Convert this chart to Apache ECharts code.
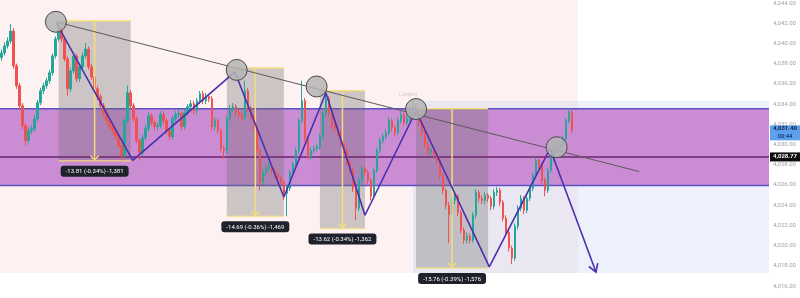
<!DOCTYPE html>
<html><head><meta charset="utf-8">
<script src="https://cdn.jsdelivr.net/npm/echarts@6/dist/echarts.min.js"></script>
<style>html,body{margin:0;padding:0;background:#fff}#c{width:800px;height:298px}</style>
</head><body><div id="c"></div>
<script>
// ---- data (bar index, price) ----
const barCount = 256;
const bars = Array.from({length: barCount}, (_, i) => String(i));
const yMin = 4016, yMax = 4044, yStep = 2;
// [open, close, low, high]
const ohlc = [
[4038.60,4039.06,4038.3,4039.4],[4039.06,4039.75,4038.8,4040.1],[4039.75,4040.24,4039.5,4040.6],[4040.24,4041.22,4040.0,4041.91],
[4041.22,4037.78,4037.5,4041.5],[4037.78,4035.81,4035.5,4038.0],[4035.81,4033.83,4033.5,4036.1],[4033.83,4031.86,4031.5,4034.1],
[4031.86,4030.39,4029.9,4032.1],[4030.39,4031.37,4030.1,4031.7],[4031.37,4031.57,4031.0,4031.9],[4031.57,4032.55,4031.3,4032.9],
[4032.55,4034.13,4032.3,4034.4],[4034.13,4035.31,4033.9,4035.6],[4035.31,4035.81,4035.0,4036.1],[4035.81,4036.30,4035.5,4036.6],
[4036.30,4037.09,4036.0,4037.4],[4037.09,4038.76,4036.8,4039.0],[4038.76,4040.44,4038.5,4040.7],[4040.44,4041.42,4040.2,4041.82],
[4041.42,4040.44,4040.1,4041.7],[4040.44,4038.47,4038.2,4040.7],[4038.47,4035.51,4034.82,4038.7],[4035.51,4037.28,4035.2,4037.6],
[4037.28,4038.76,4037.0,4039.1],[4038.76,4036.50,4036.2,4039.0],[4036.50,4037.68,4036.2,4038.0],[4037.68,4038.76,4037.4,4039.1],
[4038.76,4039.45,4038.5,4040.04],[4039.45,4037.68,4037.4,4039.7],[4037.68,4036.69,4036.4,4038.0],[4036.69,4035.51,4035.2,4037.0],
[4035.51,4034.72,4034.4,4035.8],[4034.72,4033.83,4033.5,4035.0],[4033.83,4033.15,4032.8,4034.1],[4033.15,4032.36,4032.0,4033.4],
[4032.36,4031.77,4031.4,4032.6],[4031.77,4031.37,4031.0,4032.1],[4031.37,4030.88,4030.5,4031.7],[4030.88,4029.89,4029.6,4031.1],
[4029.89,4028.91,4028.42,4030.2],[4028.91,4032.36,4028.7,4032.6],[4032.36,4035.12,4032.1,4035.81],[4035.12,4033.83,4033.5,4035.4],
[4033.83,4032.55,4032.2,4034.1],[4032.55,4030.39,4030.1,4032.8],[4030.39,4029.20,4028.42,4030.6],[4029.20,4030.68,4028.9,4031.0],
[4030.68,4031.57,4030.4,4031.9],[4031.57,4032.85,4031.3,4033.2],[4032.85,4032.16,4031.9,4033.1],[4032.16,4031.77,4031.4,4032.5],
[4031.77,4031.86,4031.4,4032.2],[4031.86,4032.95,4031.6,4033.3],[4032.95,4032.36,4032.0,4033.3],[4032.36,4031.37,4031.0,4032.6],
[4031.37,4030.78,4030.4,4031.6],[4030.78,4032.55,4030.5,4032.9],[4032.55,4032.95,4032.2,4033.3],[4032.95,4033.05,4032.6,4033.5],
[4033.05,4031.77,4031.4,4033.3],[4031.77,4033.15,4031.5,4033.5],[4033.15,4033.74,4032.8,4034.0],[4033.74,4034.03,4033.4,4034.4],
[4034.03,4033.34,4033.0,4034.3],[4033.34,4034.33,4033.0,4034.6],[4034.33,4035.02,4034.0,4035.3],[4035.02,4034.33,4034.0,4035.3],
[4034.33,4034.72,4034.0,4035.1],[4034.72,4034.53,4034.2,4035.0],[4034.53,4031.77,4031.4,4034.8],[4031.77,4032.36,4031.4,4032.7],
[4032.36,4031.37,4031.0,4032.6],[4031.37,4029.60,4029.3,4031.6],[4029.60,4029.40,4028.61,4029.9],[4029.40,4032.55,4029.1,4032.8],
[4032.55,4033.54,4032.3,4033.9],[4033.54,4033.74,4033.2,4034.1],[4033.74,4033.15,4032.8,4034.0],[4033.15,4032.95,4032.6,4033.4],
[4032.95,4032.65,4032.3,4033.2],[4032.65,4035.31,4032.4,4036.30],[4035.31,4033.54,4033.2,4035.6],[4033.54,4032.75,4032.4,4033.8],
[4032.75,4031.77,4031.4,4033.0],[4031.77,4029.40,4029.1,4032.0],[4029.40,4026.25,4025.46,4029.6],[4026.25,4027.23,4026.0,4027.6],
[4027.23,4027.63,4026.9,4028.0],[4027.63,4027.82,4027.3,4028.2],[4027.82,4027.43,4027.1,4028.1],[4027.43,4027.04,4026.7,4027.7],
[4027.04,4026.64,4026.3,4027.3],[4026.64,4026.25,4025.9,4026.9],[4026.25,4025.17,4024.48,4026.5],[4025.17,4025.66,4022.9,4026.0],
[4025.66,4027.23,4025.4,4027.5],[4027.23,4028.02,4027.0,4028.3],[4028.02,4029.40,4027.8,4029.7],[4029.40,4032.36,4029.1,4032.6],
[4032.36,4034.33,4032.1,4036.30],[4034.33,4030.58,4030.3,4034.6],[4030.58,4028.81,4028.5,4030.8],[4028.81,4029.40,4028.5,4029.7],
[4029.40,4029.60,4029.1,4029.9],[4029.60,4029.80,4029.3,4030.1],[4029.80,4030.78,4029.5,4031.1],[4030.78,4033.05,4030.5,4033.3],
[4033.05,4034.53,4032.8,4035.12],[4034.53,4033.15,4032.8,4034.8],[4033.15,4031.86,4031.5,4033.4],[4031.86,4031.57,4031.2,4032.2],
[4031.57,4031.17,4030.8,4031.9],[4031.17,4030.09,4029.8,4031.4],[4030.09,4029.40,4029.1,4030.4],[4029.40,4028.22,4027.9,4029.7],
[4028.22,4027.43,4027.1,4028.5],[4027.43,4025.66,4025.3,4027.7],[4025.66,4023.69,4022.51,4025.9],[4023.69,4026.45,4023.4,4026.7],
[4026.45,4027.63,4026.2,4027.9],[4027.63,4027.23,4026.9,4027.9],[4027.23,4026.45,4026.1,4027.5],[4026.45,4024.87,4024.48,4026.7],
[4024.87,4027.43,4024.6,4027.7],[4027.43,4029.40,4027.2,4029.7],[4029.40,4030.39,4029.1,4030.7],[4030.39,4030.78,4030.1,4031.1],
[4030.78,4031.17,4030.5,4031.5],[4031.17,4032.36,4030.9,4032.7],[4032.36,4031.67,4031.3,4032.6],[4031.67,4031.17,4030.8,4031.9],
[4031.17,4032.36,4030.9,4032.7],[4032.36,4032.95,4032.1,4033.3],[4032.95,4032.16,4031.8,4033.2],[4032.16,4032.55,4031.9,4032.9],
[4032.55,4033.54,4032.3,4033.8],[4033.54,4033.74,4033.2,4034.33],[4033.74,4033.15,4032.8,4034.0],[4033.15,4032.16,4031.8,4033.4],
[4032.16,4031.17,4030.8,4032.4],[4031.17,4029.99,4029.7,4031.4],[4029.99,4029.20,4028.9,4030.3],[4029.20,4029.40,4028.9,4029.7],
[4029.40,4029.01,4028.7,4029.7],[4029.01,4028.42,4028.1,4029.3],[4028.42,4026.94,4026.6,4028.7],[4026.94,4025.46,4025.1,4027.2],
[4025.46,4023.98,4023.6,4025.7],[4023.98,4023.10,4020.24,4024.3],[4023.10,4024.48,4022.8,4024.8],[4024.48,4024.87,4024.1,4025.2],
[4024.87,4023.29,4022.9,4025.1],[4023.29,4021.52,4021.2,4023.5],[4021.52,4020.53,4020.2,4021.8],[4020.53,4020.93,4020.2,4021.3],
[4020.93,4020.53,4020.2,4021.2],[4020.53,4023.00,4020.3,4023.3],[4023.00,4025.26,4022.7,4025.6],[4025.26,4024.67,4024.3,4025.5],
[4024.67,4024.48,4024.1,4025.0],[4024.48,4024.97,4024.1,4025.3],[4024.97,4024.67,4024.3,4025.2],[4024.67,4023.88,4023.5,4024.9],
[4023.88,4025.26,4023.6,4025.6],[4025.26,4025.46,4024.9,4025.8],[4025.46,4024.28,4023.9,4025.7],[4024.28,4022.70,4022.4,4024.5],
[4022.70,4021.32,4021.0,4023.0],[4021.32,4019.75,4019.4,4021.6],[4019.75,4018.76,4018.17,4020.0],[4018.76,4021.91,4018.5,4022.2],
[4021.91,4023.69,4021.6,4024.0],[4023.69,4024.67,4023.4,4025.0],[4024.67,4023.49,4023.1,4024.9],[4023.49,4024.67,4023.2,4025.0],
[4024.67,4025.66,4024.4,4026.0],[4025.66,4026.94,4025.4,4027.2],[4026.94,4028.42,4026.7,4028.7],[4028.42,4027.92,4027.6,4028.7],
[4027.92,4026.45,4026.1,4028.2],[4026.45,4025.46,4024.87,4026.7],[4025.46,4027.43,4025.2,4027.7],[4027.43,4028.61,4027.2,4028.9],
[4028.61,4029.40,4028.3,4029.7],[4029.40,4029.60,4029.1,4029.9],[4029.60,4029.99,4029.3,4030.3],[4029.99,4030.58,4029.7,4030.9],
[4030.58,4032.36,4030.3,4032.6],[4032.36,4033.15,4032.1,4033.6],[4033.15,4031.40,4031.1,4033.4]
];
const lastPrice = 4031.40, countdown = '00:44';
const pivotLevel = 4028.77;
const rangeBand = [-0.5, 255.5, 4033.54, 4025.95];          // [fromBar, toBar, top, bottom]
const sessionZone = [-0.5, 191.9, 4044.3, 4017.28];
const projectionZone = [137.0, 255.5, 4034.33, 4017.28];
const measureStart = [19, 75, 106, 138];
const measureEnd = [43, 94, 121, 162];
const measureTop = [4042.21, 4037.58, 4035.31, 4033.54];
const measureChange = [-13.81, -14.69, -13.62, -15.76];
const measurePct = [-0.34, -0.36, -0.34, -0.39];
const measureTicks = [-1381, -1469, -1362, -1576];
const pivotBars = [18.1, 78.3, 104.9, 138.0, 184.8];
const pivotPrices = [4042.14, 4037.38, 4035.74, 4033.51, 4029.73];
const trendBars = [18.1, 212.2];
const trendPrices = [4042.14, 4027.33];
const zigzagBars = [18.1, 43.7, 77.7, 94.0, 108.0, 121.0, 138.0, 162.4, 182.6, 197.9];
const zigzagPrices = [4042.11, 4028.42, 4037.18, 4024.80, 4035.12, 4023.00, 4033.34, 4017.90, 4029.60, 4017.38];
const sessionLabel = ['London', 135.3, 4034.95];

// ---- build ----
const fmt = v => v.toLocaleString('en-US', {minimumFractionDigits: 2, maximumFractionDigits: 2});
const measureRows = measureStart.map((s, i) => [s, measureEnd[i], measureTop[i], +(measureTop[i] + measureChange[i]).toFixed(2)]);
const measureText = measureChange.map((c, i) =>
  c.toFixed(2) + ' (' + measurePct[i].toFixed(2) + '%) ' + measureTicks[i].toLocaleString('en-US'));
const yellow = '#f2de7a';

function rectSeries(row, style, z) {
  return {
    type: 'custom', xAxisIndex: 1, yAxisIndex: 0, z, silent: true, clip: false,
    encode: {x: [0, 1], y: [2, 3]},
    data: [row],
    renderItem(params, api) {
      const a = api.coord([api.value(0), api.value(2)]);
      const b = api.coord([api.value(1), api.value(3)]);
      return {type: 'rect', shape: {x: a[0], y: a[1], width: b[0] - a[0], height: b[1] - a[1]}, style};
    }
  };
}

const chart = echarts.init(document.getElementById('c'), null, {renderer: 'canvas'});
chart.setOption({
  animation: false,
  backgroundColor: '#ffffff',
  grid: {left: 0, right: 31, top: 2, bottom: 12},
  xAxis: [
    {type: 'category', data: bars, boundaryGap: true, show: false},
    {type: 'value', min: -0.5, max: barCount - 0.5, show: false}
  ],
  yAxis: {
    type: 'value', position: 'right', min: yMin, max: yMax, interval: yStep, scale: true,
    axisLine: {show: false}, axisTick: {show: false}, splitLine: {show: false},
    axisLabel: {formatter: v => fmt(v), fontSize: 6, color: '#a3a3a3', margin: 4, fontFamily: 'Roboto'}
  },
  series: [
    rectSeries(sessionZone, {fill: '#fdf1f1'}, 1),
    rectSeries(projectionZone, {fill: 'rgba(200,212,246,0.32)'}, 1),
    {
      type: 'custom', xAxisIndex: 1, yAxisIndex: 0, z: 2, silent: true, clip: false,
      encode: {x: [0, 1], y: [2, 3]}, data: [rangeBand],
      renderItem(params, api) {
        const a = api.coord([api.value(0), api.value(2)]);
        const b = api.coord([api.value(1), api.value(3)]);
        return {type: 'group', children: [
          {type: 'rect', shape: {x: a[0], y: a[1], width: b[0] - a[0], height: b[1] - a[1]}, style: {fill: '#ca8cd2'}},
          {type: 'line', shape: {x1: a[0], y1: a[1], x2: b[0], y2: a[1]}, style: {stroke: '#5b52c6', lineWidth: 1.5}},
          {type: 'line', shape: {x1: a[0], y1: b[1], x2: b[0], y2: b[1]}, style: {stroke: '#5b52c6', lineWidth: 1.5}}
        ]};
      }
    },
    {
      type: 'custom', xAxisIndex: 1, yAxisIndex: 0, z: 3, silent: true, clip: false,
      encode: {x: [0, 1], y: [2, 3]}, data: measureRows,
      renderItem(params, api) {
        const a = api.coord([api.value(0), api.value(2)]);
        const b = api.coord([api.value(1), api.value(3)]);
        return {type: 'rect', shape: {x: a[0], y: a[1], width: b[0] - a[0], height: b[1] - a[1]}, style: {fill: 'rgba(110,110,110,0.33)'}};
      }
    },
    {
      type: 'custom', xAxisIndex: 1, yAxisIndex: 0, z: 4, silent: true, clip: false,
      encode: {x: [0, 1], y: [2]}, data: [[-0.5, barCount - 0.5, pivotLevel]],
      renderItem(params, api) {
        const a = api.coord([api.value(0), api.value(2)]);
        const b = api.coord([api.value(1), api.value(2)]);
        return {type: 'line', shape: {x1: a[0], y1: a[1], x2: b[0], y2: b[1]}, style: {stroke: '#6e2572', lineWidth: 1.5}};
      }
    },
    {
      type: 'candlestick', xAxisIndex: 0, yAxisIndex: 0, z: 5, data: ohlc, barWidth: 2,
      itemStyle: {color: '#26a69a', color0: '#ef5350', borderColor: '#26a69a', borderColor0: '#ef5350', borderWidth: 1}
    },
    {
      type: 'custom', xAxisIndex: 1, yAxisIndex: 0, z: 6, silent: true, clip: false,
      encode: {x: [0, 1], y: [2, 3]}, data: measureRows,
      renderItem(params, api) {
        const i = params.dataIndex;
        const a = api.coord([api.value(0), api.value(2)]);
        const b = api.coord([api.value(1), api.value(3)]);
        const l = a[0], r = b[0], t = a[1], bt = b[1], m = (l + r) / 2;
        const st = {stroke: yellow, lineWidth: 1.5, fill: null};
        return {type: 'group', children: [
          {type: 'line', shape: {x1: l, y1: t, x2: r, y2: t}, style: st},
          {type: 'line', shape: {x1: l, y1: bt, x2: r, y2: bt}, style: {stroke: 'rgba(242,222,122,0.75)', lineWidth: 1.5}},
          {type: 'line', shape: {x1: m, y1: t, x2: m, y2: bt - 1}, style: st},
          {type: 'polyline', shape: {points: [[m - 4, bt - 5], [m, bt - 1], [m + 4, bt - 5]]}, style: st},
          {type: 'text', x: m, y: bt + 5, style: {text: measureText[i], fill: '#ffffff', fontSize: 6, fontFamily: 'Roboto',
            align: 'center', verticalAlign: 'top', backgroundColor: '#1f222c', padding: [3, 5, 2, 5], borderRadius: 3}}
        ]};
      }
    },
    {
      type: 'line', xAxisIndex: 1, yAxisIndex: 0, z: 7, silent: true, showSymbol: false, symbol: 'none',
      data: trendBars.map((b, i) => [b, trendPrices[i]]),
      lineStyle: {color: '#5a5a5a', width: 1}
    },
    {
      type: 'line', xAxisIndex: 1, yAxisIndex: 0, z: 7, silent: true, showSymbol: false, symbol: 'none',
      data: zigzagBars.map((b, i) => [b, zigzagPrices[i]]),
      lineStyle: {color: '#4a2fae', width: 1.6}
    },
    {
      type: 'custom', xAxisIndex: 1, yAxisIndex: 0, z: 7, silent: true, clip: false,
      encode: {x: [0, 2], y: [1, 3]},
      data: [[zigzagBars[8], zigzagPrices[8], zigzagBars[9], zigzagPrices[9]]],
      renderItem(params, api) {
        const p0 = api.coord([api.value(0), api.value(1)]);
        const p1 = api.coord([api.value(2), api.value(3)]);
        const ang = Math.atan2(p1[1] - p0[1], p1[0] - p0[0]);
        const L = 9, h = 0.55;
        const w1 = [p1[0] - L * Math.cos(ang - h), p1[1] - L * Math.sin(ang - h)];
        const w2 = [p1[0] - L * Math.cos(ang + h), p1[1] - L * Math.sin(ang + h)];
        return {type: 'polyline', shape: {points: [w1, p1, w2]}, style: {stroke: '#4a2fae', lineWidth: 1.6, fill: null}};
      }
    },
    {
      type: 'scatter', xAxisIndex: 1, yAxisIndex: 0, z: 8, silent: true, symbolSize: 21,
      data: pivotBars.map((b, i) => [b, pivotPrices[i]]),
      itemStyle: {color: 'rgba(180,180,180,0.85)', borderColor: '#4a4a4a', borderWidth: 1, opacity: 1}
    },
    {
      type: 'scatter', xAxisIndex: 1, yAxisIndex: 0, z: 8, silent: true, symbolSize: 0,
      data: [[sessionLabel[1], sessionLabel[2]]],
      label: {show: true, formatter: sessionLabel[0], position: 'inside', fontSize: 5.5, color: 'rgba(140,140,160,0.45)', fontFamily: 'Roboto'}
    },
    {
      type: 'custom', xAxisIndex: 1, yAxisIndex: 0, z: 10, silent: true, clip: false,
      encode: {x: [0], y: [1]}, data: [[barCount - 0.5, lastPrice], [barCount - 0.5, pivotLevel]],
      renderItem(params, api) {
        const p = api.coord([api.value(0), api.value(1)]);
        const x = p[0] + 1, y = p[1];
        if (params.dataIndex === 0) {
          return {type: 'group', children: [
            {type: 'rect', shape: {x, y: y - 5, width: 31, height: 15}, style: {fill: '#5ea0f0'}},
            {type: 'text', x: x + 15, y: y - 1.5, style: {text: fmt(lastPrice), fill: '#0b1a3c', fontSize: 6, fontWeight: 'bold', fontFamily: 'Roboto', align: 'center', verticalAlign: 'middle'}},
            {type: 'text', x: x + 15, y: y + 6, style: {text: countdown, fill: '#0b1a3c', fontSize: 6, fontFamily: 'Roboto', align: 'center', verticalAlign: 'middle'}}
          ]};
        }
        return {type: 'group', children: [
          {type: 'rect', shape: {x, y: y - 4.5, width: 31, height: 9}, style: {fill: '#0d0d10'}},
          {type: 'text', x: x + 15, y: y, style: {text: fmt(pivotLevel), fill: '#ffffff', fontSize: 6, fontWeight: 'bold', fontFamily: 'Roboto', align: 'center', verticalAlign: 'middle'}}
        ]};
      }
    }
  ]
});
</script></body></html>
